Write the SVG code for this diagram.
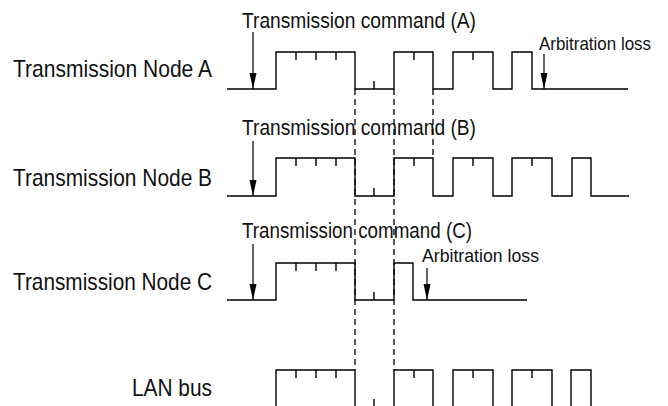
<svg xmlns="http://www.w3.org/2000/svg" width="668" height="406" viewBox="0 0 668 406">
<style>
.wave{fill:none;stroke:#000;stroke-width:1.4;stroke-linejoin:miter}
.tick{stroke:#000;stroke-width:1.4}
.dash{stroke:#000;stroke-width:1.3;stroke-dasharray:6 4;fill:none}
.arr{stroke:#000;stroke-width:1.2;fill:none;marker-end:url(#ah)}
.lbl{font-family:"Liberation Sans",Arial,sans-serif;font-size:24px;fill:#111}
.cmd{font-family:"Liberation Sans",Arial,sans-serif;font-size:21.5px;fill:#111}
.arb{font-family:"Liberation Sans",Arial,sans-serif;font-size:19px;fill:#111}
</style>
<defs>
<marker id="ah" markerUnits="userSpaceOnUse" markerWidth="16" markerHeight="8" refX="16" refY="3.5" orient="auto">
<path d="M0,0 L16,3.5 L0,7 Z" fill="#000"/>
</marker>
</defs>
<rect width="668" height="406" fill="#fff"/>
<g id="node-a">
<text class="lbl" x="212" y="77" text-anchor="end" textLength="199" lengthAdjust="spacingAndGlyphs">Transmission Node A</text>
<text class="cmd" x="242" y="28" textLength="234" lengthAdjust="spacingAndGlyphs">Transmission command (A)</text>
<text class="arb" x="539" y="50" textLength="112" lengthAdjust="spacingAndGlyphs">Arbitration loss</text>
<path class="wave" d="M227,89 H276 V52 H355 V89 H394 V52 H433 V89 H453 V52 H493 V89 H512 V52 H532 V89 H628"/>
<path class="tick" d="M296,52 V60 M316,52 V60 M336,52 V60 M414,52 V60 M473,52 V60 M374,89 V81"/>
</g>
<g id="node-b">
<text class="lbl" x="212" y="186" text-anchor="end" textLength="199" lengthAdjust="spacingAndGlyphs">Transmission Node B</text>
<text class="cmd" x="242" y="135" textLength="234" lengthAdjust="spacingAndGlyphs">Transmission command (B)</text>
<path class="wave" d="M227,196 H276 V158 H355 V196 H394 V158 H433 V196 H453 V158 H493 V196 H512 V158 H552 V196 H572 V158 H591 V196 H629"/>
<path class="tick" d="M296,158 V166 M316,158 V166 M336,158 V166 M414,158 V166 M473,158 V166 M532,158 V166 M374,196 V188"/>
</g>
<g id="node-c">
<text class="lbl" x="212" y="290" text-anchor="end" textLength="199" lengthAdjust="spacingAndGlyphs">Transmission Node C</text>
<text class="cmd" x="242" y="238" textLength="230" lengthAdjust="spacingAndGlyphs">Transmission command (C)</text>
<text class="arb" x="422" y="262" textLength="117" lengthAdjust="spacingAndGlyphs">Arbitration loss</text>
<path class="wave" d="M227,300 H276 V263 H355 V300 H394 V263 H413 V300 H527"/>
<path class="tick" d="M296,263 V271 M316,263 V271 M336,263 V271 M374,300 V292"/>
</g>
<g id="lan-bus">
<text class="lbl" x="212" y="396" text-anchor="end" textLength="80" lengthAdjust="spacingAndGlyphs">LAN bus</text>
<path class="wave" d="M276,410 V370 H355 V410 M394,410 V370 H433 V410 M453,410 V370 H493 V410 M512,410 V370 H552 V410 M571,410 V370 H591 V410"/>
<path class="tick" d="M296,370 V378 M316,370 V378 M336,370 V378 M414,370 V378 M473,370 V378 M532,370 V378 M374,399 V410"/>
</g>
<g id="connectors">
<path class="dash" d="M355,89 V370 M394,89 V370 M433,89 V158"/>
<path class="arr" d="M253,32 V89"/>
<path class="arr" d="M253,141 V196"/>
<path class="arr" d="M253,244 V300"/>
<path class="arr" d="M544,54 V89"/>
<path class="arr" d="M427,268 V300"/>
</g>
</svg>
